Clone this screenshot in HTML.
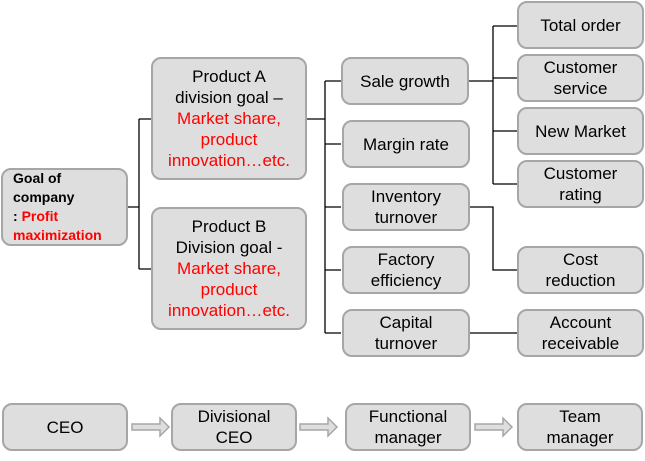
<!DOCTYPE html>
<html><head><style>
body{margin:0;width:645px;height:461px;background:#fff;position:relative;overflow:hidden;font-family:"Liberation Sans",Arial,sans-serif}
.b{position:absolute;box-sizing:border-box;background:#dedede;border:2px solid #a6a6a6;border-radius:10px;display:flex;align-items:center;justify-content:center;text-align:center;font-size:17px;line-height:21px;color:#000}
.b>div{display:block}
.r{color:#f00}
svg{position:absolute;left:0;top:0}
</style></head><body>
<svg width="645" height="461">
<g stroke="#000" stroke-width="1.3" fill="none">
<path d="M127 207H139M139 119V269M139 119H151M139 269H151"/>
<path d="M306 119H325M325 81V333M325 81H341M325 144H341M325 207H341M325 270H341M325 333H341"/>
<path d="M468 81H493M493 26V184M493 26H517M493 78H517M493 131H517M493 184H517"/>
<path d="M470 207H493V270H517"/>
<path d="M470 333H517"/>
</g>
<g fill="#dedede" stroke="#a6a6a6" stroke-width="1.5">
<path d="M132 424H160V418L169 427L160 436V430H132Z"/>
<path d="M300 424H328V418L337 427L328 436V430H300Z"/>
<path d="M475 424H503V418L512 427L503 436V430H475Z"/>
</g>
</svg>
<div class="b" style="left:1px;top:168px;width:127px;height:78px;justify-content:flex-start;text-align:left;padding-left:10px;font-weight:bold;font-size:14px;line-height:19px"><div>Goal of<br>company<br>: <span class="r">Profit</span><br><span class="r">maximization</span></div></div>
<div class="b" style="left:151px;top:57px;width:156px;height:123px"><div>Product A<br>division goal –<br><span class="r">Market share,<br>product<br>innovation…etc.</span></div></div>
<div class="b" style="left:151px;top:207px;width:156px;height:123px"><div>Product B<br>Division goal -<br><span class="r">Market share,<br>product<br>innovation…etc.</span></div></div>
<div class="b" style="left:341px;top:57px;width:128px;height:48px"><div>Sale growth</div></div>
<div class="b" style="left:342px;top:120px;width:128px;height:48px"><div>Margin rate</div></div>
<div class="b" style="left:342px;top:183px;width:128px;height:48px"><div>Inventory<br>turnover</div></div>
<div class="b" style="left:342px;top:246px;width:128px;height:48px"><div>Factory<br>efficiency</div></div>
<div class="b" style="left:342px;top:309px;width:128px;height:48px"><div>Capital<br>turnover</div></div>
<div class="b" style="left:517px;top:1px;width:127px;height:48px"><div>Total order</div></div>
<div class="b" style="left:517px;top:54px;width:127px;height:48px"><div>Customer<br>service</div></div>
<div class="b" style="left:517px;top:107px;width:127px;height:48px"><div>New Market</div></div>
<div class="b" style="left:517px;top:160px;width:127px;height:48px"><div>Customer<br>rating</div></div>
<div class="b" style="left:517px;top:246px;width:127px;height:48px"><div>Cost<br>reduction</div></div>
<div class="b" style="left:517px;top:309px;width:127px;height:48px"><div>Account<br>receivable</div></div>
<div class="b" style="left:2px;top:403px;width:126px;height:48px"><div>CEO</div></div>
<div class="b" style="left:171px;top:403px;width:126px;height:48px"><div>Divisional<br>CEO</div></div>
<div class="b" style="left:345px;top:403px;width:126px;height:48px"><div>Functional<br>manager</div></div>
<div class="b" style="left:517px;top:403px;width:126px;height:48px"><div>Team<br>manager</div></div>
</body></html>
